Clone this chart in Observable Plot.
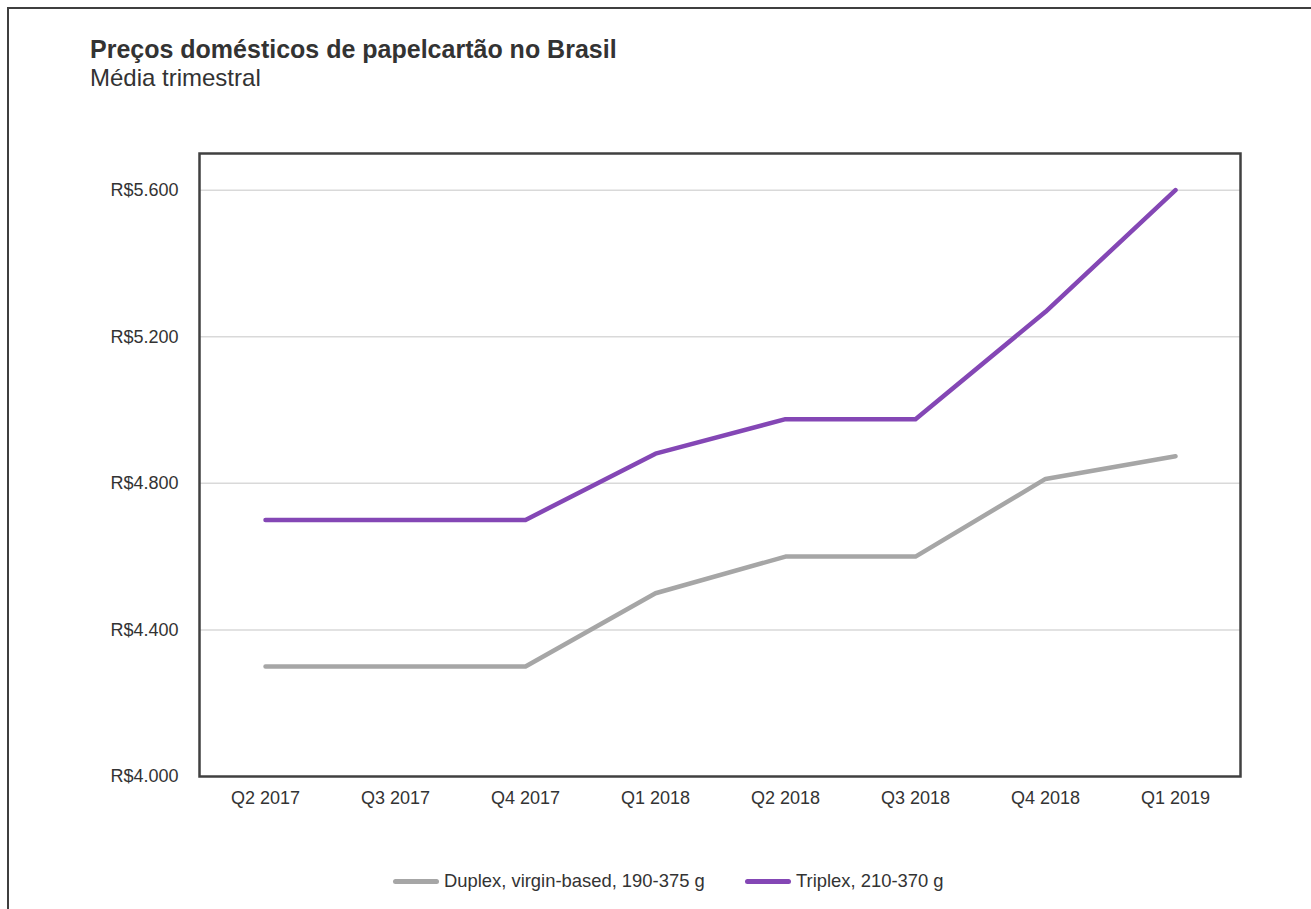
<!DOCTYPE html>
<html>
<head>
<meta charset="utf-8">
<script src="https://cdn.jsdelivr.net/npm/d3@7"></script>
<script src="https://cdn.jsdelivr.net/npm/@observablehq/plot@0.6"></script>
<style>
  html, body { margin: 0; padding: 0; background: #fff; }
  body { width: 1311px; height: 909px; overflow: hidden; position: relative;
         font-family: "Liberation Sans", Arial, sans-serif; color: #333; }
  #border { position: absolute; left: 7px; top: 7px; width: 1400px; height: 1000px;
            border-left: 2px solid #3f3f3f; border-top: 2px solid #3f3f3f; }
  #title { position: absolute; left: 90px; top: 37px; font-size: 25px; font-weight: bold;
           line-height: 1; color: #333; white-space: nowrap; }
  #subtitle { position: absolute; left: 90px; top: 66px; font-size: 24px; line-height: 1;
              color: #333; white-space: nowrap; }
  #chart { position: absolute; left: 0; top: 0; }
  #legend { position: absolute; top: 870px; left: 0; width: 1311px; height: 22px; }
  .item { position: absolute; top: 0; display: flex; align-items: center; font-size: 18.4px;
          line-height: 22px; color: #333; white-space: nowrap; }
  .sw { width: 46px; height: 5px; border-radius: 3px; margin-right: 5px; }
</style>
</head>
<body>
<div id="border"></div>
<div id="chart"></div>
<div id="title">Preços domésticos de papelcartão no Brasil</div>
<div id="subtitle">Média trimestral</div>
<div id="legend"></div>
<script>
const quarters = ["Q2 2017", "Q3 2017", "Q4 2017", "Q1 2018", "Q2 2018", "Q3 2018", "Q4 2018", "Q1 2019"];
const duplex = [4300, 4300, 4300, 4500, 4600, 4600, 4812, 4874];
const triplex = [4700, 4700, 4700, 4881, 4975, 4975, 5268, 5600];
const seriesNames = ["Duplex, virgin-based, 190-375 g", "Triplex, 210-370 g"];
const seriesColors = ["#a6a6a6", "#8447b5"];
const yTicks = [4000, 4400, 4800, 5200, 5600];
const gridTicks = [4400, 4800, 5200, 5600];

const data = [];
quarters.forEach((q, i) => {
  data.push({q, v: duplex[i], s: seriesNames[0]});
  data.push({q, v: triplex[i], s: seriesNames[1]});
});

const locale = d3.formatLocale({decimal: ",", thousands: ".", grouping: [3], currency: ["R$", ""]});
const fmt = locale.format("$,.0f");

const plot = Plot.plot({
  width: 1311,
  height: 909,
  marginTop: 153,
  marginLeft: 199,
  marginRight: 71,
  marginBottom: 133,
  style: {fontFamily: '"Liberation Sans", Arial, sans-serif', fontSize: "18px", color: "#333", background: "transparent"},
  x: {type: "point", domain: quarters, padding: 0.5},
  y: {domain: [4000, 5700]},
  color: {domain: seriesNames, range: seriesColors},
  marks: [
    Plot.ruleY(gridTicks, {stroke: "#d9d9d9", strokeWidth: 1.5}),
    Plot.axisY({ticks: yTicks, tickSize: 0, tickPadding: 21, tickFormat: fmt, label: null}),
    Plot.axisX({tickSize: 0, tickPadding: 15, label: null}),
    Plot.line(data, {x: "q", y: "v", z: "s", stroke: "s", strokeWidth: 4.5}),
    Plot.frame({stroke: "#404040", strokeWidth: 2.5})
  ]
});
document.getElementById("chart").appendChild(plot);

const legend = document.getElementById("legend");
const lefts = [393, 745];
seriesNames.forEach((name, i) => {
  const it = document.createElement("div");
  it.className = "item";
  it.style.left = lefts[i] + "px";
  const sw = document.createElement("div");
  sw.className = "sw";
  sw.style.background = seriesColors[i];
  const t = document.createElement("span");
  t.textContent = name;
  it.appendChild(sw);
  it.appendChild(t);
  legend.appendChild(it);
});
</script>
</body>
</html>
